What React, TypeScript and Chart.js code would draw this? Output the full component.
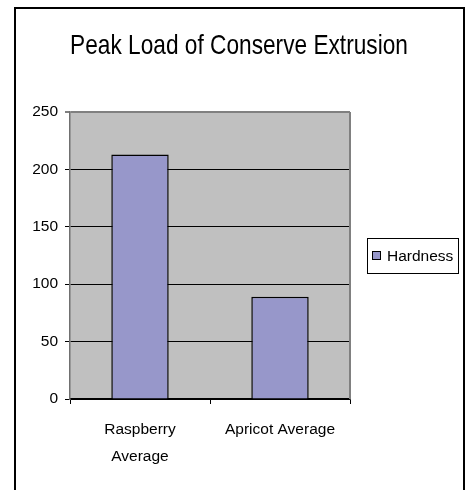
import React, { useEffect, useRef } from 'react';
import { Chart, registerables } from 'chart.js';

Chart.register(...registerables);

const chartTitle = 'Peak Load of Conserve Extrusion';
const categories: (string | string[])[] = [['Raspberry', 'Average'], 'Apricot Average'];
const seriesName = 'Hardness';
const hardness = [213, 89];
const yMin = 0;
const yMax = 250;
const yStep = 50;

const FONT = '"Liberation Sans", Arial, sans-serif';

const decorPlugin = {
  id: 'decor',
  beforeDraw(chart: any) {
    const { ctx, chartArea } = chart;
    ctx.save();
    // outer frame
    ctx.strokeStyle = '#000000';
    ctx.lineWidth = 2;
    ctx.strokeRect(15, 8, 449, 520);
    // plot background
    ctx.fillStyle = '#C0C0C0';
    ctx.fillRect(chartArea.left, chartArea.top, chartArea.right - chartArea.left, chartArea.bottom - chartArea.top);
    ctx.restore();
  },
  afterDraw(chart: any) {
    const { ctx, chartArea } = chart;
    ctx.save();
    // right plot border
    ctx.strokeStyle = '#808080';
    ctx.lineWidth = 2;
    ctx.beginPath();
    ctx.moveTo(chartArea.right, chartArea.top);
    ctx.lineTo(chartArea.right, chartArea.bottom);
    ctx.stroke();

    // title (condensed rendering like the original)
    ctx.save();
    ctx.fillStyle = '#000000';
    ctx.font = `28px ${FONT}`;
    ctx.textAlign = 'center';
    ctx.textBaseline = 'alphabetic';
    ctx.translate(239, 54);
    ctx.scale(0.81, 1);
    ctx.fillText(chartTitle, 0, 0);
    ctx.restore();

    // legend
    const ds = chart.data.datasets[0];
    const lx = chartArea.right + 17;
    const cy = (chartArea.top + chartArea.bottom) / 2;
    ctx.strokeStyle = '#000000';
    ctx.lineWidth = 1;
    ctx.strokeRect(Math.round(lx) + 0.5, Math.round(cy - 17.5) + 0.5, 91, 35);
    ctx.fillStyle = ds.backgroundColor;
    ctx.fillRect(Math.round(lx) + 5, Math.round(cy - 4.5), 9, 9);
    ctx.strokeRect(Math.round(lx) + 5.5, Math.round(cy - 4.5) + 0.5, 8, 8);
    ctx.fillStyle = '#000000';
    ctx.font = `15.5px ${FONT}`;
    ctx.textAlign = 'left';
    ctx.textBaseline = 'middle';
    ctx.fillText(ds.label, Math.round(lx) + 20, cy + 1);
    ctx.restore();
  },
};

export default function App() {
  const ref = useRef<HTMLCanvasElement | null>(null);

  useEffect(() => {
    if (!ref.current) return;
    const chart = new Chart(ref.current, {
      type: 'bar',
      data: {
        labels: categories,
        datasets: [
          {
            label: seriesName,
            data: hardness,
            backgroundColor: '#9797CA',
            borderColor: '#000000',
            borderWidth: 1.5,
            barPercentage: 0.41,
            categoryPercentage: 1,
          },
        ],
      },
      options: {
        animation: false,
        responsive: false,
        devicePixelRatio: 1,
        layout: { padding: { left: 0, right: 116, top: 112, bottom: 0 } },
        plugins: {
          legend: { display: false },
          title: { display: false },
          tooltip: { enabled: false },
        },
        scales: {
          x: {
            afterFit(scale: any) {
              scale.height = 91;
            },
            grid: {
              offset: true,
              drawOnChartArea: false,
              drawTicks: true,
              tickLength: 5,
              color: '#000000',
              lineWidth: 1,
            },
            border: { color: '#000000', width: 1.5 },
            ticks: {
              color: '#000000',
              font: { family: FONT, size: 15.5, lineHeight: 1.75 },
              padding: 12.5,
              maxRotation: 0,
              autoSkip: false,
            },
          },
          y: {
            min: yMin,
            max: yMax,
            afterFit(scale: any) {
              scale.width = 70;
            },
            grid: {
              color: (c: any) => (c.tick && c.tick.value === yMax ? '#808080' : '#000000'),
              lineWidth: (c: any) => (c.tick && c.tick.value === yMax ? 2 : 1),
              tickLength: 5,
              drawTicks: true,
            },
            border: { color: '#707070', width: 1.5 },
            ticks: {
              stepSize: yStep,
              color: '#000000',
              font: { family: FONT, size: 15.5 },
              padding: 7,
            },
          },
        },
      },
      plugins: [decorPlugin],
    });
    return () => chart.destroy();
  }, []);

  return (
    <div style={{ position: 'fixed', left: 0, top: 0, width: 466, height: 490, overflow: 'hidden', background: '#ffffff' }}>
      <canvas ref={ref} width={466} height={490} style={{ width: 466, height: 490, display: 'block' }} />
    </div>
  );
}
